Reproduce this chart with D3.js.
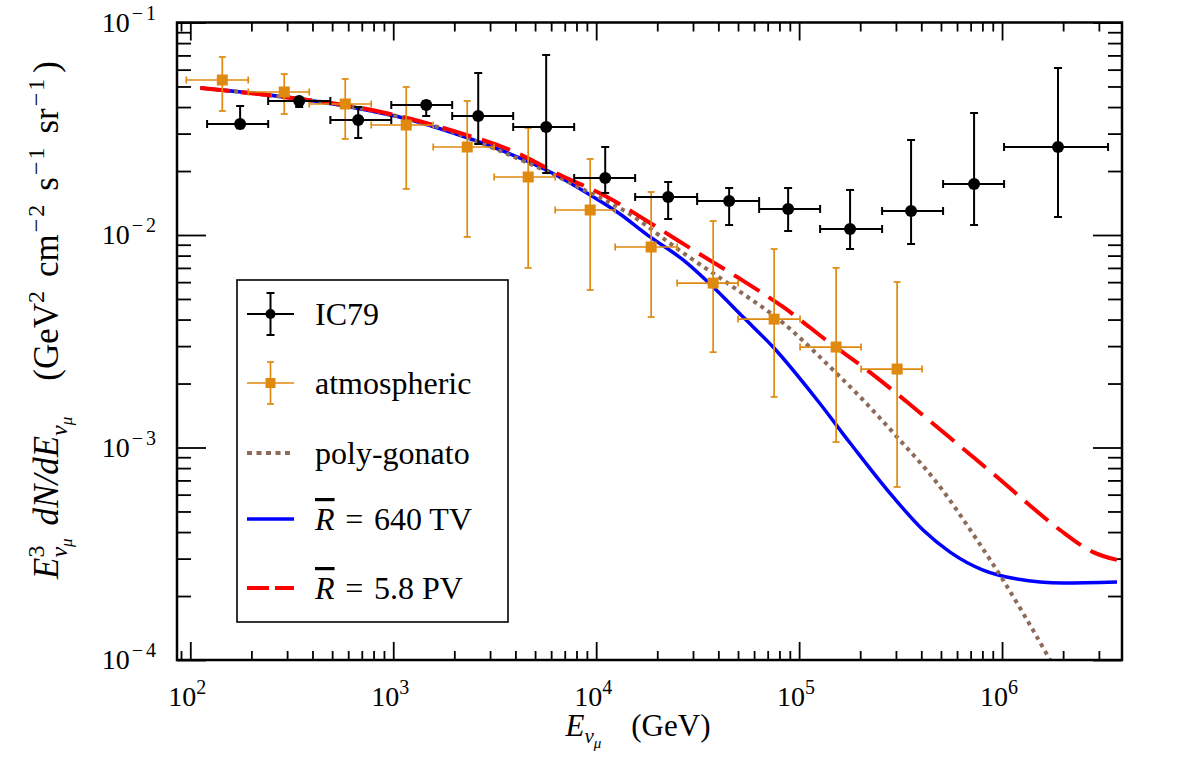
<!DOCTYPE html>
<html><head><meta charset="utf-8">
<script src="https://cdn.jsdelivr.net/npm/d3@7"></script>
<style>
body{margin:0;background:#fff;}
</style></head><body>
<svg id="chart" width="1182" height="780" font-family="'Liberation Serif', 'DejaVu Serif', serif"></svg>
<script>
// ---------------- data ----------------
const xDomain = [86, 3.9e6];
const yDomain = [1e-4, 0.1];
const xTickExps = [2, 3, 4, 5, 6];
const yTickExps = [-1, -2, -3, -4];

// IC79 (black circles)
const ic79E  = [176, 344, 672, 1454, 2623, 5671, 11080, 22630, 45210, 88280, 178300, 356200, 728000, 1887000];
const ic79Lo = [121, 242, 490, 978, 1952, 3900, 7790, 15560, 31440, 63530, 126900, 256400, 512200, 1023000];
const ic79Hi = [242, 490, 978, 1952, 3900, 7790, 15560, 31440, 63530, 126900, 256400, 512200, 1023000, 3330000];
const ic79F  = [0.0333, 0.04272, 0.03477, 0.04091, 0.03631, 0.03223, 0.01854, 0.0151, 0.01445, 0.01326, 0.01067, 0.01297, 0.01738, 0.02595];
const ic79Up = [0.04047, 0.0440, 0.04003, 0.04272, 0.05785, 0.07035, 0.02595, 0.01776, 0.01664, 0.01664, 0.01629, 0.028, 0.0375, 0.06107];
const ic79Dn = [0.0318, 0.04003, 0.02861, 0.03631, 0.02681, 0.01957, 0.01577, 0.01189, 0.01114, 0.01044, 0.00859, 0.00907, 0.01114, 0.01215];

// atmospheric (orange squares)
const atmE  = [143.8, 290.4, 580, 1159, 2315, 4624, 9342, 18660, 37700, 75300, 152200, 304000];
const atmLo = [95.6, 193, 385.6, 779, 1574, 3144, 6281, 12400, 25060, 50060, 101100, 202000];
const atmHi = [193, 385.6, 779, 1574, 3144, 6281, 12400, 25060, 50060, 101100, 202000, 403600];
const atmF  = [0.05363, 0.04709, 0.04135, 0.03293, 0.02595, 0.01875, 0.01311, 0.00878, 0.00594, 0.00402, 0.00297, 0.00234];
const atmUp = [0.06882, 0.05722, 0.05421, 0.04971, 0.04272, 0.03188, 0.02278, 0.01594, 0.01164, 0.00859, 0.0070, 0.00601];
const atmDn = [0.03834, 0.0371, 0.0283, 0.01647, 0.00979, 0.0070, 0.00551, 0.00411, 0.00281, 0.001729, 0.001061, 0.000652];

// model curves
const blueE = [112, 348, 614, 1172, 1910, 3366, 5934, 9342, 12690, 18450, 26830, 37700, 52990, 74450, 122700, 178300, 290500, 408200, 554200, 806200, 1186000, 2000000, 3685000];
const blueF = [0.04918, 0.04365, 0.04003, 0.03515, 0.03053, 0.02512, 0.01979, 0.01543, 0.01283, 0.00979, 0.00763, 0.00569, 0.00411, 0.00297, 0.001673, 0.00105, 0.000585, 0.000409, 0.000322, 0.000265, 0.0002405, 0.0002304, 0.0002329];
const polyE = [112, 348, 614, 1172, 1910, 3366, 5934, 9342, 13580, 26830, 47310, 83400, 147100, 206700, 304000, 478400, 753100, 1011000, 1328000, 1724000, 1930000];
const polyF = [0.04918, 0.04365, 0.04025, 0.03535, 0.03086, 0.02485, 0.01957, 0.01577, 0.01311, 0.00823, 0.00569, 0.003854, 0.002316, 0.001673, 0.00112, 0.000681, 0.000367, 0.000238, 0.0001543, 0.0001, 0.0000822];
const redE = [112, 348, 614, 1172, 1910, 4082, 6647, 11330, 18450, 30050, 49500, 83400, 142100, 216300, 340400, 478400, 672200, 944900, 1328000, 1931000, 2808000, 3685000];
const redF = [0.04918, 0.04365, 0.04047, 0.03553, 0.0312, 0.02431, 0.01916, 0.0151, 0.01139, 0.0085, 0.00634, 0.004585, 0.0031, 0.002316, 0.001637, 0.001249, 0.000953, 0.000726, 0.000548, 0.000409, 0.000322, 0.000296];

const legendLabels = ["IC79", "atmospheric", "poly-gonato", "640 TV", "5.8 PV"];

// ---------------- layout ----------------
const L = 177, R = 1122, T = 22.5, B = 660;
const BLACK = "#000", ORANGE = "#e0890f", BROWN = "#8c6b58", BLUE = "#0000ff", RED = "#ff0000";

const svg = d3.select("#chart");
const x = d3.scaleLog().domain(xDomain).range([L, R]);
const y = d3.scaleLog().domain(yDomain).range([B, T]);

svg.append("defs").append("clipPath").attr("id", "clip")
  .append("rect").attr("x", L).attr("y", T).attr("width", R - L).attr("height", B - T);

// ticks
const majorX = xTickExps.map(e => Math.pow(10, e));
const minorX = [];
for (let e = 1; e <= 6; e++) for (let k = 2; k <= 9; k++) {
  const v = k * Math.pow(10, e);
  if (x(v) > L + 3 && x(v) < R - 3) minorX.push(v);
}
const majorY = yTickExps.map(e => Math.pow(10, e));
const minorY = [];
for (let e = -4; e <= -2; e++) for (let k = 2; k <= 9; k++) minorY.push(k * Math.pow(10, e));

function styleAxis(g) {
  g.select(".domain").remove();
  g.selectAll("line").attr("stroke", BLACK).attr("stroke-width", 1.8);
  g.selectAll("text").remove();
}
const axes = [
  [d3.axisBottom(x).tickValues(majorX).tickSize(-18), `translate(0,${B})`],
  [d3.axisBottom(x).tickValues(minorX).tickSize(-9), `translate(0,${B})`],
  [d3.axisTop(x).tickValues(majorX).tickSize(-18), `translate(0,${T})`],
  [d3.axisTop(x).tickValues(minorX).tickSize(-9), `translate(0,${T})`],
  [d3.axisLeft(y).tickValues(majorY).tickSize(-29), `translate(${L},0)`],
  [d3.axisLeft(y).tickValues(minorY).tickSize(-14), `translate(${L},0)`],
  [d3.axisRight(y).tickValues(majorY).tickSize(-29), `translate(${R},0)`],
  [d3.axisRight(y).tickValues(minorY).tickSize(-14), `translate(${R},0)`]
];
axes.forEach(([ax, tr]) => svg.append("g").attr("transform", tr).call(ax.tickFormat("")).call(styleAxis));

// tick labels
const TICK_FS = 28, SUP_FS = 20;
xTickExps.forEach(e => {
  const t = svg.append("text").attr("x", x(Math.pow(10, e)) - 3).attr("y", 706)
    .attr("text-anchor", "middle").attr("font-size", TICK_FS);
  t.append("tspan").text("10");
  t.append("tspan").attr("font-size", SUP_FS).attr("dy", -12).text(String(e));
});
yTickExps.forEach(e => {
  const t = svg.append("text").attr("x", 156).attr("y", y(Math.pow(10, e)) + 9)
    .attr("text-anchor", "end").attr("font-size", TICK_FS);
  t.append("tspan").text("10");
  t.append("tspan").attr("font-size", SUP_FS).attr("dy", -12).attr("dx", 2).text("\u2212");
  t.append("tspan").attr("font-size", SUP_FS).attr("dx", 3).text(String(-e));
});

// curves
const lineGen = d3.line().x(d => x(d[0])).y(d => y(d[1])).curve(d3.curveMonotoneX);
const cg = svg.append("g").attr("clip-path", "url(#clip)");
cg.append("path").datum(d3.zip(blueE, blueF)).attr("d", lineGen)
  .attr("fill", "none").attr("stroke", BLUE).attr("stroke-width", 3.5);
cg.append("path").datum(d3.zip(polyE, polyF)).attr("d", lineGen)
  .attr("fill", "none").attr("stroke", BROWN).attr("stroke-width", 4).attr("stroke-dasharray", "4,4.5");
cg.append("path").datum(d3.zip(redE, redF)).attr("d", lineGen)
  .attr("fill", "none").attr("stroke", RED).attr("stroke-width", 4).attr("stroke-dasharray", "30,11");

// error bars & markers
function errorBars(E, lo, hi, F, up, dn, color, sw, cap) {
  const g = svg.append("g").attr("stroke", color).attr("stroke-width", sw);
  E.forEach((e, i) => {
    const cx = x(e), cy = y(F[i]);
    g.append("line").attr("x1", cx).attr("x2", cx).attr("y1", y(up[i])).attr("y2", y(dn[i]));
    g.append("line").attr("x1", x(lo[i])).attr("x2", x(hi[i])).attr("y1", cy).attr("y2", cy);
    [up[i], dn[i]].forEach(v => g.append("line").attr("x1", cx - cap).attr("x2", cx + cap).attr("y1", y(v)).attr("y2", y(v)));
    [lo[i], hi[i]].forEach(v => g.append("line").attr("x1", x(v)).attr("x2", x(v)).attr("y1", cy - cap).attr("y2", cy + cap));
  });
}
errorBars(atmE, atmLo, atmHi, atmF, atmUp, atmDn, ORANGE, 1.7, 3.5);
errorBars(ic79E, ic79Lo, ic79Hi, ic79F, ic79Up, ic79Dn, BLACK, 2, 4);
svg.append("g").selectAll("rect").data(d3.zip(atmE, atmF)).join("rect")
  .attr("x", d => x(d[0]) - 5.5).attr("y", d => y(d[1]) - 5.5).attr("width", 11).attr("height", 11).attr("fill", ORANGE);
svg.append("g").selectAll("circle").data(d3.zip(ic79E, ic79F)).join("circle")
  .attr("cx", d => x(d[0])).attr("cy", d => y(d[1])).attr("r", 6).attr("fill", BLACK);

// frame
svg.append("rect").attr("x", L).attr("y", T).attr("width", R - L).attr("height", B - T)
  .attr("fill", "none").attr("stroke", BLACK).attr("stroke-width", 2.5);

// legend
const lg = svg.append("g");
lg.append("rect").attr("x", 237).attr("y", 280).attr("width", 271).attr("height", 342)
  .attr("fill", "#fff").attr("stroke", BLACK).attr("stroke-width", 1.6);
const ly = [314, 383, 453, 519, 588];
const sx1 = 247, sx2 = 294, smid = 270.5;
lg.append("line").attr("x1", sx1).attr("x2", sx2).attr("y1", ly[0]).attr("y2", ly[0]).attr("stroke", BLACK).attr("stroke-width", 2);
lg.append("line").attr("x1", smid).attr("x2", smid).attr("y1", ly[0] - 21).attr("y2", ly[0] + 21).attr("stroke", BLACK).attr("stroke-width", 2);
[ly[0] - 21, ly[0] + 21].forEach(v => lg.append("line").attr("x1", smid - 4).attr("x2", smid + 4).attr("y1", v).attr("y2", v).attr("stroke", BLACK).attr("stroke-width", 2));
lg.append("circle").attr("cx", smid).attr("cy", ly[0]).attr("r", 5).attr("fill", BLACK);
lg.append("line").attr("x1", sx1).attr("x2", sx2).attr("y1", ly[1]).attr("y2", ly[1]).attr("stroke", ORANGE).attr("stroke-width", 1.7);
lg.append("line").attr("x1", smid).attr("x2", smid).attr("y1", ly[1] - 21).attr("y2", ly[1] + 21).attr("stroke", ORANGE).attr("stroke-width", 1.7);
[ly[1] - 21, ly[1] + 21].forEach(v => lg.append("line").attr("x1", smid - 3.5).attr("x2", smid + 3.5).attr("y1", v).attr("y2", v).attr("stroke", ORANGE).attr("stroke-width", 1.7));
lg.append("rect").attr("x", smid - 5).attr("y", ly[1] - 5).attr("width", 10).attr("height", 10).attr("fill", ORANGE);
lg.append("line").attr("x1", sx1).attr("x2", sx2).attr("y1", ly[2]).attr("y2", ly[2]).attr("stroke", BROWN).attr("stroke-width", 4).attr("stroke-dasharray", "5,4.5");
lg.append("line").attr("x1", sx1).attr("x2", sx2).attr("y1", ly[3]).attr("y2", ly[3]).attr("stroke", BLUE).attr("stroke-width", 3.5);
lg.append("line").attr("x1", sx1).attr("x2", sx2).attr("y1", ly[4]).attr("y2", ly[4]).attr("stroke", RED).attr("stroke-width", 4).attr("stroke-dasharray", "22,6");

const LEG_FS = 32;
legendLabels.forEach((lab, i) => {
  const t = lg.append("text").attr("x", 315).attr("y", ly[i] + 11).attr("font-size", LEG_FS);
  if (i >= 3) {
    t.append("tspan").attr("font-style", "italic").attr("text-decoration", "overline").text("R");
    t.append("tspan").text("\u2004=\u2004" + lab);
  } else t.text(lab);
});

// axis titles
function addSegs(t, segs) {
  segs.forEach(s => {
    const ts = t.append("tspan").text(s.t);
    if (s.i) ts.attr("font-style", "italic");
    if (s.fs) ts.attr("font-size", s.fs);
    if (s.dy) ts.attr("dy", s.dy);
    if (s.dx) ts.attr("dx", s.dx);
  });
}
const xt = svg.append("text").attr("x", 638).attr("y", 736).attr("text-anchor", "middle").attr("font-size", 31);
addSegs(xt, [
  {t: "E", i: true},
  {t: "\u03bd", i: true, fs: 21, dy: 7},
  {t: "\u03bc", i: true, fs: 15, dy: 5},
  {t: "(GeV)", dx: 30, dy: -12}
]);

const yt = svg.append("text").attr("transform", "translate(58,320) rotate(-90)")
  .attr("text-anchor", "middle").attr("font-size", 35);
addSegs(yt, [
  {t: "E", i: true},
  {t: "3", fs: 24, dy: -14},
  {t: "\u03bd", i: true, fs: 24, dx: -12, dy: 23},
  {t: "\u03bc", i: true, fs: 17, dy: 5},
  {t: "dN/dE", i: true, dx: 13, dy: -14},
  {t: "\u03bd", i: true, fs: 24, dy: 9},
  {t: "\u03bc", i: true, fs: 17, dy: 5},
  {t: "(GeV", dx: 36, dy: -14},
  {t: "2", fs: 24, dy: -14},
  {t: "cm", dx: 14, dy: 14},
  {t: "\u2212", fs: 24, dx: 2, dy: -14},
  {t: "2", fs: 24, dx: 2},
  {t: "s", dx: 14, dy: 14},
  {t: "\u2212", fs: 24, dx: 2, dy: -14},
  {t: "1", fs: 24, dx: 2},
  {t: "sr", dx: 14, dy: 14},
  {t: "\u2212", fs: 24, dx: 2, dy: -14},
  {t: "1", fs: 24, dx: 2},
  {t: ")", dx: 6, dy: 14}
]);
</script>
</body></html>
